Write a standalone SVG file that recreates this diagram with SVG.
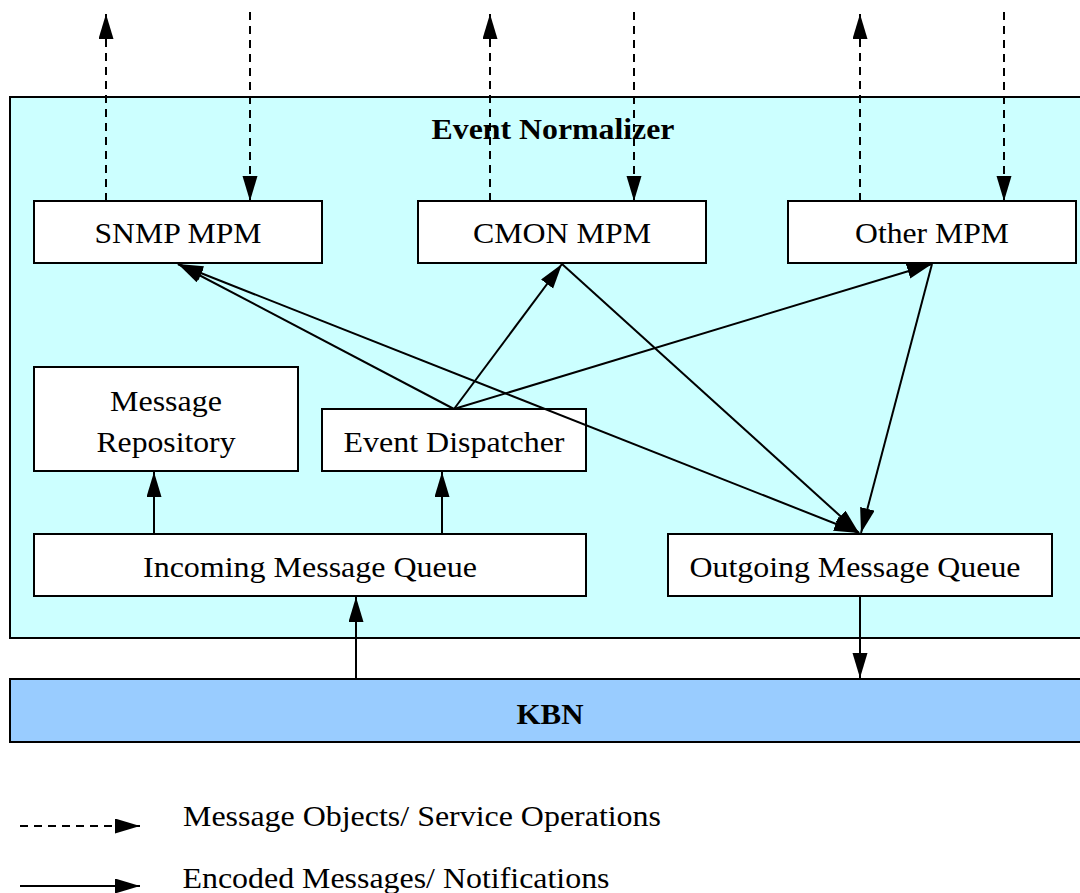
<svg xmlns="http://www.w3.org/2000/svg" width="1080" height="893" viewBox="0 0 1080 893">
<style>
.box{fill:#ffffff;stroke:#000;stroke-width:2}
.t{font-family:"Liberation Serif","Times New Roman",serif;font-size:30px;fill:#000;text-anchor:middle}
.b{font-weight:bold}
.sl{stroke:#000;stroke-width:2;fill:none}
.ds{stroke:#000;stroke-width:2;fill:none;stroke-dasharray:8 6}
</style>
<defs>
<marker id="ah" markerUnits="userSpaceOnUse" markerWidth="26" markerHeight="16" refX="25" refY="7.5" orient="auto">
<path d="M0,0 L25,7.5 L0,15 z" fill="#000"/>
</marker>
<marker id="ahs" markerUnits="userSpaceOnUse" markerWidth="26" markerHeight="16" refX="0" refY="7.5" orient="auto">
<path d="M25,0 L0,7.5 L25,15 z" fill="#000"/>
</marker>
</defs>
<g id="normalizer">
<rect x="10" y="97" width="1075" height="541" fill="#ccffff" stroke="#000" stroke-width="2"/>
<text class="t b" x="553" y="139" textLength="243" lengthAdjust="spacingAndGlyphs">Event Normalizer</text>
</g>
<g id="kbn">
<rect x="10" y="679" width="1075" height="63" fill="#99ccff" stroke="#000" stroke-width="2"/>
<text class="t b" x="550" y="724" textLength="67" lengthAdjust="spacingAndGlyphs">KBN</text>
</g>
<g id="snmp">
<rect class="box" x="34" y="201" width="288" height="62"/>
<text class="t" x="178" y="243" textLength="167" lengthAdjust="spacingAndGlyphs">SNMP MPM</text>
</g>
<g id="cmon">
<rect class="box" x="418" y="201" width="288" height="62"/>
<text class="t" x="562" y="243" textLength="178" lengthAdjust="spacingAndGlyphs">CMON MPM</text>
</g>
<g id="other">
<rect class="box" x="788" y="201" width="288" height="62"/>
<text class="t" x="932" y="243" textLength="154" lengthAdjust="spacingAndGlyphs">Other MPM</text>
</g>
<g id="repository">
<rect class="box" x="34" y="367" width="264" height="104"/>
<text class="t" x="166" y="411" textLength="112" lengthAdjust="spacingAndGlyphs">Message</text>
<text class="t" x="166" y="452" textLength="139" lengthAdjust="spacingAndGlyphs">Repository</text>
</g>
<g id="dispatcher">
<rect class="box" x="322" y="409" width="264" height="62"/>
<text class="t" x="454" y="452" textLength="221" lengthAdjust="spacingAndGlyphs">Event Dispatcher</text>
</g>
<g id="incoming">
<rect class="box" x="34" y="534" width="552" height="62"/>
<text class="t" x="310" y="577" textLength="334" lengthAdjust="spacingAndGlyphs">Incoming Message Queue</text>
</g>
<g id="outgoing">
<rect class="box" x="668" y="534" width="384" height="62"/>
<text class="t" x="855" y="577" textLength="331" lengthAdjust="spacingAndGlyphs">Outgoing Message Queue</text>
</g>
<g id="connectors">
<line class="ds" x1="106" y1="201" x2="106" y2="14" marker-end="url(#ah)"/>
<line class="ds" x1="250" y1="12" x2="250" y2="201" marker-end="url(#ah)"/>
<line class="ds" x1="490" y1="201" x2="490" y2="14" marker-end="url(#ah)"/>
<line class="ds" x1="634" y1="12" x2="634" y2="201" marker-end="url(#ah)"/>
<line class="ds" x1="860" y1="201" x2="860" y2="14" marker-end="url(#ah)"/>
<line class="ds" x1="1004" y1="12" x2="1004" y2="201" marker-end="url(#ah)"/>
<line class="sl" x1="454" y1="409" x2="178" y2="264" marker-end="url(#ah)"/>
<line class="sl" x1="178" y1="264" x2="859" y2="533" marker-start="url(#ahs)" marker-end="url(#ah)"/>
<line class="sl" x1="454" y1="409" x2="562" y2="264" marker-end="url(#ah)"/>
<line class="sl" x1="562" y1="264" x2="859" y2="533" marker-end="url(#ah)"/>
<line class="sl" x1="454" y1="409" x2="932" y2="264" marker-end="url(#ah)"/>
<line class="sl" x1="932" y1="264" x2="861" y2="533" marker-end="url(#ah)"/>
<line class="sl" x1="154" y1="534" x2="154" y2="472" marker-end="url(#ah)"/>
<line class="sl" x1="442" y1="534" x2="442" y2="472" marker-end="url(#ah)"/>
<line class="sl" x1="356" y1="679" x2="356" y2="597" marker-end="url(#ah)"/>
<line class="sl" x1="860" y1="596" x2="860" y2="678" marker-end="url(#ah)"/>
</g>
<g id="legend">
<line class="ds" x1="20" y1="826" x2="140" y2="826" marker-end="url(#ah)"/>
<text class="t" x="422" y="826" textLength="478" lengthAdjust="spacingAndGlyphs">Message Objects/ Service Operations</text>
<line class="sl" x1="20" y1="886" x2="140" y2="886" marker-end="url(#ah)"/>
<text class="t" x="396" y="888" textLength="427" lengthAdjust="spacingAndGlyphs">Encoded Messages/ Notifications</text>
</g>
</svg>
